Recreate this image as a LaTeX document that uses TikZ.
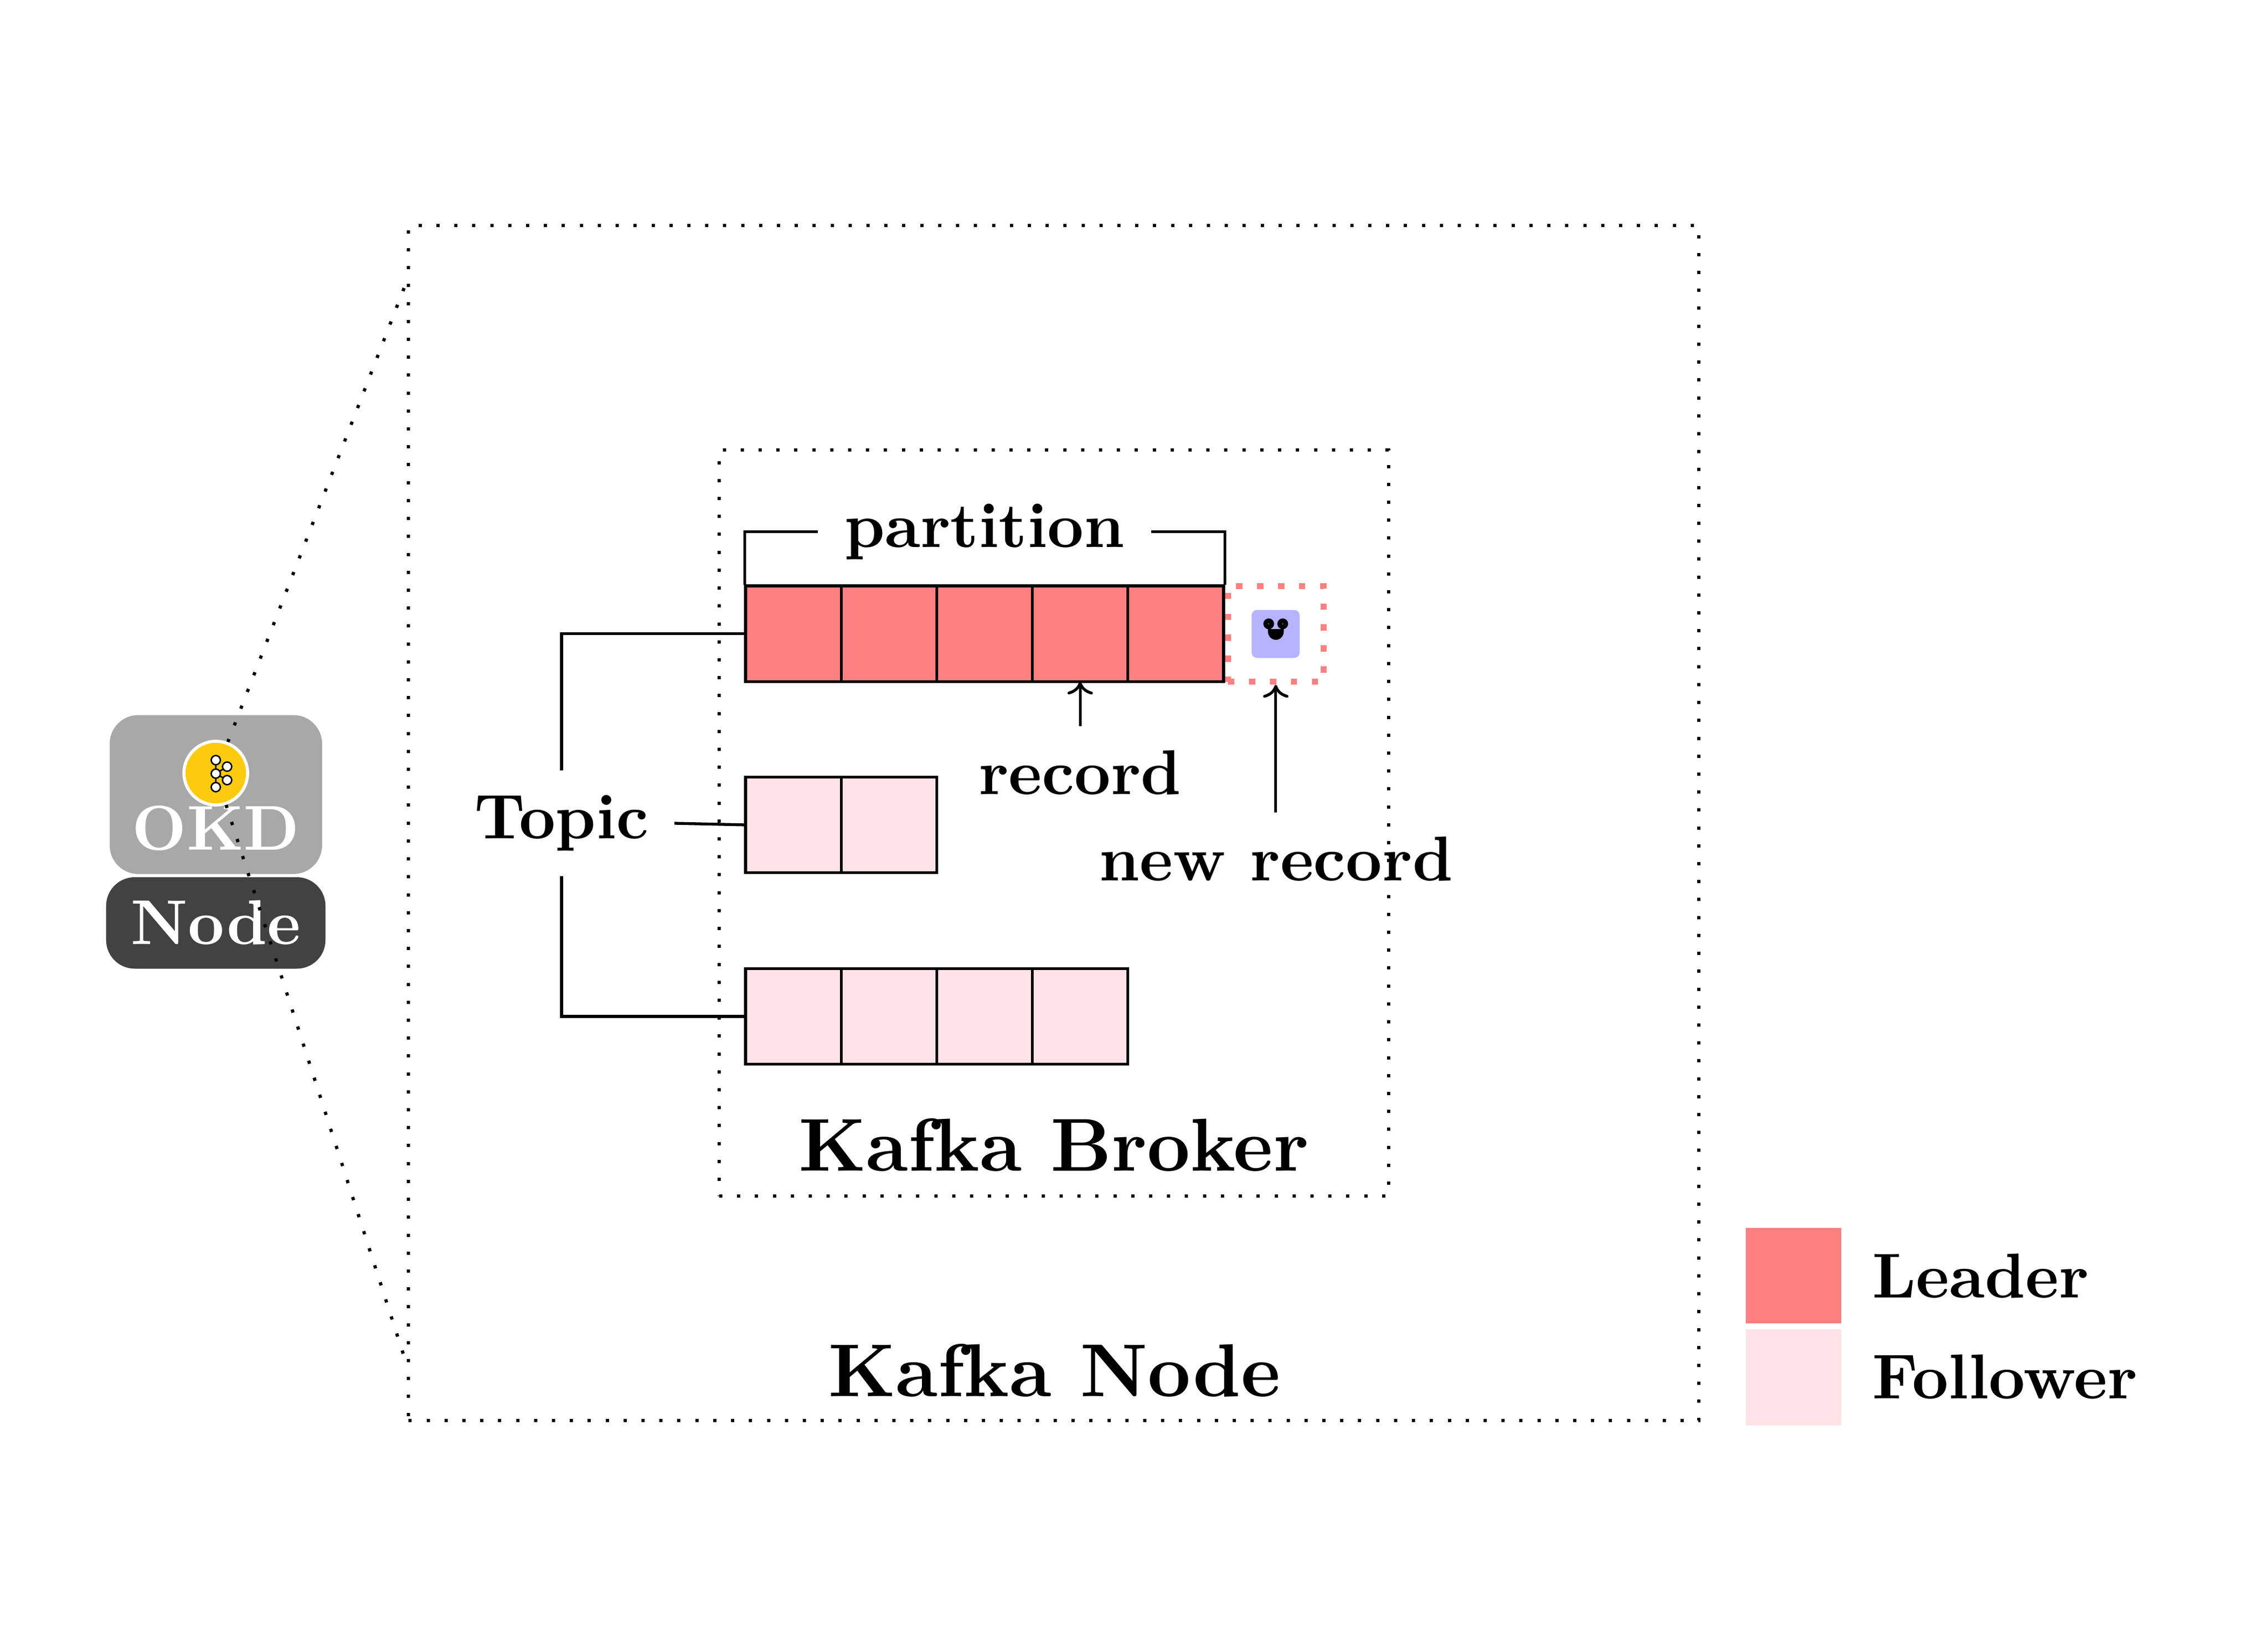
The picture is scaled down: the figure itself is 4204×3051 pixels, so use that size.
\documentclass[tikz,border=0pt]{standalone}
\usetikzlibrary{arrows.meta}
\usepackage{fontspec}
\newfontface\lmbx{lmroman10-bold.otf}
\definecolor{leadred}{HTML}{FF8080}
\definecolor{followpink}{HTML}{FFE3E6}
\definecolor{okdgray}{HTML}{A8A8A8}
\definecolor{nodegray}{HTML}{424242}
\definecolor{kafkayellow}{HTML}{FDCB0E}
\definecolor{recblue}{HTML}{B6B4FF}
\tikzset{
  labfont/.style={font=\fontsize{23.5}{28}\lmbx},
  lab/.style={inner sep=0pt,outer sep=0pt,anchor=base,labfont},
  biglab/.style={inner sep=0pt,outer sep=0pt,anchor=base,font=\fontsize{27.8}{33}\lmbx},
  wline/.style={line width=1.06pt},
  cellbox/.style={draw=black,wline,minimum size=35.44pt,inner sep=0pt,outer sep=0pt},
  leadcell/.style={cellbox,fill=leadred},
  followcell/.style={cellbox,fill=followpink},
  legendbox/.style={minimum size=35.44pt,inner sep=0pt,outer sep=0pt},
  dotline/.style={line width=1.2pt,dash pattern=on 1.2pt off 5.442pt},
  reddots/.style={draw=leadred,line width=2.32pt,dash pattern=on 2.32pt off 5.44pt,
     minimum size=35.4pt,inner sep=0pt},
  okdbox/.style={fill=okdgray,rounded corners=10.6pt,inner sep=0pt,outer sep=0pt,minimum width=78.74pt,minimum height=58.9pt},
  nodebox/.style={fill=nodegray,rounded corners=10.6pt,inner sep=0pt,outer sep=0pt,minimum width=81.32pt,minimum height=33.9pt},
  kdot/.style={circle,draw=black,fill=white,line width=0.54pt,minimum size=3.4pt,inner sep=0pt,outer sep=0pt},
  tiparrow/.style={wline,-{Computer Modern Rightarrow[length=4.8pt,width=9.4pt]}},
}
\begin{document}
\begin{tikzpicture}[x=0.2pt,y=-0.2pt]
\useasboundingbox (0,0) rectangle (4204,3051);
% OKD node
\node[okdbox] (okd) at (400.15,1472.75) {};
\node[nodebox] (nod) at (400,1710.75) {};
\node[lab,text=white] (okdt) at (400,1575.5) {OKD};
\node[lab,text=white] (nodt) at (400,1750) {Node};
% dotted boxes
\draw[dotline] (757.3,2632.7) -- (3149.3,2632.7) -- (3149.3,418) -- (757.3,418) -- cycle;
\draw[dotline] (1333,2217) -- (2574,2217) -- (2574,834) -- (1333,834) -- cycle;
% zoom lines
\coordinate (ktop) at (749,534);
\coordinate (kbot) at (747.3,2509);
\coordinate (kcen) at (400,1433);
\draw[dotline] (ktop) -- (kcen);
\draw[dotline] (kbot) -- (kcen);
% kafka logo
\node[circle,draw=white,fill=kafkayellow,line width=1.14pt,minimum size=23.6pt,inner sep=0pt,outer sep=0pt] (kcirc) at (kcen) {};
\node[kdot] (k1) at (400,1409) {};
\node[kdot] (k2) at (421,1421) {};
\node[kdot] (k3) at (400,1434) {};
\node[kdot] (k4) at (421,1446) {};
\node[kdot] (k5) at (400,1459) {};
\draw[line width=0.54pt] (k1) -- (k3) (k3) -- (k5) (k3) -- (k2) (k3) -- (k4);
% cells
\foreach \i/\x in {1/1470.6,2/1647.8,3/1825,4/2002.2,5/2179.4}
  \node[leadcell] (c1\i) at (\x,1174.7) {};
\foreach \i/\x in {1/1470.6,2/1647.8}
  \node[followcell] (c2\i) at (\x,1529) {};
\foreach \i/\x in {1/1470.6,2/1647.8,3/1825,4/2002.2}
  \node[followcell] (c3\i) at (\x,1883.9) {};
% partition
\node[inner sep=0pt,outer sep=0pt,minimum width=123.7pt,labfont] (part) at (1825,985.5) {partition};
\draw[wline] (part.west) -- ++(-135.6,0) -- ++(0,98.5);
\draw[wline] (part.east) -- ++(136,0) -- ++(0,98.5);
% topic
\node[inner sep=0pt,outer sep=0pt,minimum width=83.6pt,minimum height=39.3pt,labfont] (topic) at (1041,1526) {Topic};
\draw[wline] (topic.north) -- (topic.north |- c11.west) -- (c11.west);
\draw[wline] (topic.south) -- (topic.south |- c31.west) -- (c31.west);
\draw[wline] (topic.east) -- (c21.west);
% new record
\node[reddots] (newbox) at (2364.8,1175) {};
\node[fill=recblue,rounded corners=2pt,minimum size=17.8pt,inner sep=0pt,outer sep=0pt] (rec) at (2364.5,1175) {};
\fill (2351.7,1156.3) circle[radius=2pt];
\fill (2377.7,1156.3) circle[radius=2pt];
\fill[white] (2351.7,1156.3) circle[radius=0.15pt];
\fill[white] (2377.7,1156.3) circle[radius=0.15pt];
\fill (2350.3,1166) -- (2379.5,1166) -- (2379.5,1171) .. controls (2379.5,1179) and (2373,1186) .. (2365,1186) .. controls (2357,1186) and (2350.3,1179) .. (2350.3,1171) -- cycle;
% record labels
\node[lab,inner ysep=8.95pt] (rlab) at (2002,1472.7) {record};
\node[lab,inner ysep=9.05pt] (nlab) at (2365.5,1632.7) {new record};
\draw[tiparrow] (rlab.north -| c14.south) -- (c14.south);
\draw[tiparrow] (nlab.north -| newbox.south) -- (newbox.south);
% titles
\node[biglab] (broker) at (1953,2170) {Kafka Broker};
\node[biglab] (knode) at (1954.5,2588) {Kafka Node};
% legend
\node[legendbox,fill=leadred] (lg1) at (3324.8,2364.7) {};
\node[legendbox,fill=followpink] (lg2) at (3324.8,2552.9) {};
\node[lab,anchor=base west] (lt1) at (3470.5,2405) {Leader};
\node[lab,anchor=base west] (lt2) at (3470.5,2592.7) {Follower};
\end{tikzpicture}
\end{document}
